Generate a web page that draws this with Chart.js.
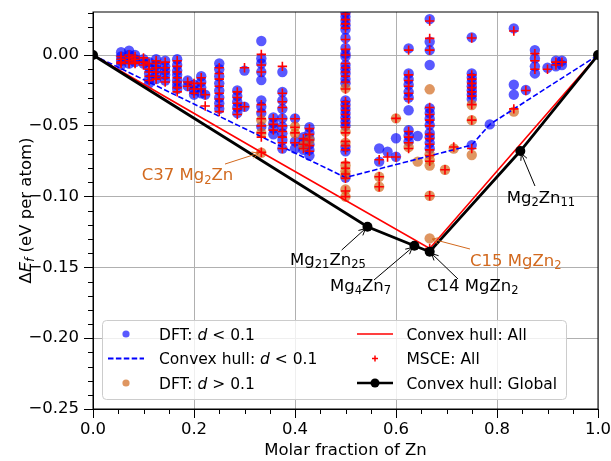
<!DOCTYPE html>
<html><head><meta charset="utf-8">
<script src="https://cdn.jsdelivr.net/npm/chart.js@4.4.1/dist/chart.umd.min.js"></script>
<style>html,body{margin:0;padding:0;background:#fff}</style>
</head><body>
<canvas id="c" width="611" height="461"></canvas>
<script>
// ---------- data (composition x, formation energies) ----------
const dftLowCols = [
 [0.0556,[0.002,-0.001,-0.004,-0.007]],
 [0.0714,[0.003,0.000,-0.003,-0.006]],
 [0.0833,[0.000,-0.003,-0.005]],
 [0.1,[-0.003,-0.006]],
 [0.1111,[-0.005,-0.009,-0.013,-0.017,-0.020]],
 [0.125,[-0.003,-0.007,-0.010,-0.014,-0.017]],
 [0.1429,[-0.004,-0.008,-0.011,-0.014,-0.018]],
 [0.1667,[-0.003,-0.007,-0.011,-0.014,-0.018,-0.021,-0.024]],
 [0.1875,[-0.018,-0.022]],
 [0.2,[-0.021,-0.025,-0.028]],
 [0.2143,[-0.015,-0.019,-0.023,-0.027]],
 [0.2222,[-0.028]],
 [0.25,[-0.006,-0.010,-0.015,-0.020,-0.025,-0.030,-0.034,-0.038]],
 [0.2857,[-0.025,-0.029,-0.033,-0.037,-0.041]],
 [0.3,[-0.011,-0.0365]],
 [0.3333,[0.0099,-0.0024,-0.006,-0.012,-0.0177,-0.032,-0.0365,-0.041,-0.0506]],
 [0.3571,[-0.044,-0.048,-0.052,-0.056]],
 [0.375,[-0.012,-0.026,-0.032,-0.038,-0.0447,-0.0506,-0.0553,-0.060,-0.066]],
 [0.4,[-0.0447,-0.061,-0.066]],
 [0.4167,[-0.058,-0.062,-0.067]],
 [0.4286,[-0.051,-0.055,-0.059,-0.063,-0.067,-0.071]],
 [0.5,[0.030,0.027,0.024,0.021,0.018,0.012,0.005,0.001,-0.001,-0.007,-0.010,-0.013,-0.017,-0.020,-0.032,-0.035,-0.038,-0.041,-0.044,-0.047,-0.050,-0.065,-0.068,-0.0865]],
 [0.5667,[-0.066,-0.0753]],
 [0.5833,[-0.0683]],
 [0.6,[-0.0588,-0.0718]],
 [0.625,[0.0047,-0.013,-0.017,-0.021,-0.026,-0.030,-0.039,-0.053,-0.057,-0.061]],
 [0.6429,[-0.0572]],
 [0.6667,[0.0254,0.0094,0.0035,-0.007,-0.0376,-0.041,-0.045,-0.0494,-0.055,-0.058,-0.062,-0.066]],
 [0.75,[0.0125,-0.013,-0.016,-0.019,-0.022,-0.025,-0.028,-0.031,-0.0636]],
 [0.7857,[-0.049]],
 [0.8333,[0.0188,-0.021,-0.028]],
 [0.8571,[-0.0247]],
 [0.875,[0.0035,-0.0024,-0.008,-0.013]],
 [0.9,[-0.009]],
 [0.9167,[-0.004,-0.008]],
 [0.9286,[-0.004,-0.007]]
];
const dftHighCols = [
 [0.3333,[-0.046,-0.055,-0.069]],
 [0.4,[-0.0506,-0.0553]],
 [0.4167,[-0.064]],
 [0.4286,[-0.060]],
 [0.5,[-0.0235,-0.054,-0.062,-0.078,-0.082,-0.085,-0.095,-0.100]],
 [0.5667,[-0.086,-0.093]],
 [0.6,[-0.0447]],
 [0.625,[-0.065]],
 [0.6429,[-0.0753]],
 [0.6667,[-0.0242,-0.070,-0.074,-0.078,-0.0994,-0.1295]],
 [0.697,[-0.081]],
 [0.7143,[-0.066]],
 [0.75,[-0.0353,-0.046,-0.0706]],
 [0.8333,[-0.040]]
];
const msceCols = [
 [0.0556,[-0.001,-0.003,-0.005,-0.006]],
 [0.0714,[0.000,-0.002,-0.004,-0.006]],
 [0.0833,[-0.001,-0.003,-0.005,-0.006]],
 [0.1,[-0.002,-0.005,-0.007]],
 [0.1111,[-0.006,-0.010,-0.012,-0.015,-0.018]],
 [0.125,[-0.004,-0.006,-0.009,-0.012,-0.015,-0.017]],
 [0.1429,[-0.005,-0.009,-0.012,-0.016,-0.019]],
 [0.1667,[-0.004,-0.008,-0.012,-0.016,-0.019,-0.023,-0.026]],
 [0.1875,[-0.019,-0.022]],
 [0.2,[-0.020,-0.024,-0.027]],
 [0.2143,[-0.016,-0.020,-0.024]],
 [0.2222,[-0.028,-0.036]],
 [0.25,[-0.009,-0.013,-0.017,-0.022,-0.027,-0.031,-0.036,-0.040]],
 [0.2857,[-0.026,-0.030,-0.034,-0.038,-0.042]],
 [0.3,[-0.009,-0.0365]],
 [0.3333,[0.0005,-0.007,-0.012,-0.035,-0.040,-0.045,-0.050,-0.055,-0.058,-0.0687]],
 [0.3571,[-0.045,-0.049,-0.053]],
 [0.375,[-0.008,-0.027,-0.033,-0.037,-0.045,-0.050,-0.054,-0.058,-0.062,-0.066]],
 [0.4,[-0.045,-0.051,-0.055,-0.062]],
 [0.4167,[-0.059,-0.063,-0.066]],
 [0.4286,[-0.052,-0.056,-0.060,-0.064,-0.068]],
 [0.5,[0.029,0.025,0.022,0.019,0.011,0.004,0.000,-0.006,-0.009,-0.012,-0.015,-0.019,-0.024,-0.033,-0.036,-0.039,-0.042,-0.045,-0.048,-0.051,-0.055,-0.061,-0.064,-0.067,-0.076,-0.080,-0.084,-0.087,-0.096,-0.100]],
 [0.5667,[-0.074,-0.086,-0.093]],
 [0.5833,[-0.072]],
 [0.6,[-0.0447,-0.072]],
 [0.625,[0.0035,-0.014,-0.018,-0.022,-0.027,-0.031,-0.054,-0.058,-0.062,-0.066]],
 [0.6667,[0.024,0.0118,0.0035,-0.037,-0.042,-0.046,-0.050,-0.056,-0.059,-0.063,-0.067,-0.071,-0.075,-0.0994,-0.1366]],
 [0.697,[-0.081]],
 [0.7143,[-0.065]],
 [0.75,[0.012,-0.014,-0.017,-0.020,-0.023,-0.026,-0.029,-0.035,-0.046,-0.066]],
 [0.8333,[0.017,-0.038]],
 [0.8571,[-0.025]],
 [0.875,[0.001,-0.004,-0.010]],
 [0.9,[-0.010]],
 [0.9167,[-0.005,-0.007]],
 [0.9286,[-0.005]]
];
const hullLowX = [0, 0.5, 0.75, 0.7857, 1];
const hullLowY = [0, -0.0865, -0.0636, -0.049, 0];
const hullAllX = [0, 0.3333, 0.6667, 1];
const hullAllY = [0, -0.0687, -0.1366, 0];
const hullGlobalX = [0, 0.5435, 0.6364, 0.6667, 0.8462, 1];
const hullGlobalY = [0, -0.1213, -0.1347, -0.1389, -0.0678, 0];
const xTickValues = [0, 0.2, 0.4, 0.6, 0.8, 1.0];
const yTickValues = [-0.25, -0.20, -0.15, -0.10, -0.05, 0.00];

// ---------- helpers ----------
const FONT = "'DejaVu Sans', sans-serif";
const ORANGE_TXT = '#d2691e';
const cols2pts = cols => cols.flatMap(([x, ys]) => ys.map(y => ({x, y})));
const xy2pts = (xs, ys) => xs.map((x, i) => ({x, y: ys[i]}));

function drawRich(ctx, parts, x, y, size, color) {
  let cx = x;
  ctx.fillStyle = color;
  ctx.textBaseline = 'alphabetic';
  ctx.textAlign = 'left';
  for (const [t, st] of parts) {
    let fs = size, dy = 0, sty = '';
    if (st.includes('s')) { fs = size * 0.7; dy = size * 0.2; }
    if (st.includes('i')) sty = 'italic ';
    ctx.font = `${sty}${fs}px ${FONT}`;
    ctx.fillText(t, cx, y + dy);
    cx += ctx.measureText(t).width;
  }
  return cx - x;
}
function measureRich(ctx, parts, size) {
  let w = 0;
  for (const [t, st] of parts) {
    let fs = st.includes('s') ? size * 0.7 : size;
    ctx.font = `${st.includes('i') ? 'italic ' : ''}${fs}px ${FONT}`;
    w += ctx.measureText(t).width;
  }
  return w;
}
function arrow(ctx, x1, y1, x2, y2, color) {
  const dx = x2 - x1, dy = y2 - y1, L = Math.hypot(dx, dy);
  const ux = dx / L, uy = dy / L;
  const ex = x2 - ux * 2.7, ey = y2 - uy * 2.7;
  ctx.strokeStyle = color; ctx.lineWidth = 1;
  ctx.beginPath(); ctx.moveTo(x1, y1); ctx.lineTo(ex, ey); ctx.stroke();
  const hl = 6.5, hw = 3.3;
  ctx.beginPath();
  ctx.moveTo(ex - ux * hl - uy * hw, ey - uy * hl + ux * hw);
  ctx.lineTo(ex, ey);
  ctx.lineTo(ex - ux * hl + uy * hw, ey - uy * hl - ux * hw);
  ctx.stroke();
}

// annotations: target point, arrow start and text anchor (data units)
const annotations = [
  {parts: [['C37 Mg',''],['2','s'],['Zn','']], color: ORANGE_TXT, target:[0.3333,-0.0687], from:[0.2614,-0.0770], text:[0.0964,-0.0886]},
  {parts: [['Mg',''],['21','s'],['Zn',''],['25','s']], color:'#000', target:[0.5435,-0.1213], from:[0.4925,-0.1377], text:[0.3901,-0.1483]},
  {parts: [['Mg',''],['4','s'],['Zn',''],['7','s']], color:'#000', target:[0.6364,-0.1347], from:[0.5564,-0.1589], text:[0.4693,-0.1667]},
  {parts: [['C14 MgZn',''],['2','s']], color:'#000', target:[0.6667,-0.1389], from:[0.7228,-0.1582], text:[0.6614,-0.1667]},
  {parts: [['C15 MgZn',''],['2','s']], color: ORANGE_TXT, target:[0.6667,-0.1295], from:[0.7465,-0.1370], text:[0.7465,-0.1490]},
  {parts: [['Mg',''],['2','s'],['Zn',''],['11','s']], color:'#000', target:[0.8462,-0.0678], from:[0.8752,-0.0925], text:[0.8192,-0.1043]}
];

const decor = {
  id: 'decor',
  afterDraw(chart) {
    const ctx = chart.ctx, ca = chart.chartArea;
    const xs = chart.scales.x, ys = chart.scales.y;
    ctx.save();
    // frame
    ctx.strokeStyle = '#000'; ctx.lineWidth = 1;
    ctx.strokeRect(ca.left, ca.top, ca.right - ca.left, ca.bottom - ca.top);
    // minor ticks
    ctx.beginPath();
    for (let i = 1; i < 20; i++) {
      if (i % 4 === 0) continue;
      const px = Math.round(xs.getPixelForValue(i * 0.05)) + 0.5;
      ctx.moveTo(px, ca.bottom); ctx.lineTo(px, ca.bottom + 5);
    }
    for (let i = -25; i <= 3; i++) {
      if (i % 5 === 0) continue;
      const py = Math.round(ys.getPixelForValue(i * 0.01)) + 0.5;
      ctx.moveTo(ca.left, py); ctx.lineTo(ca.left - 5, py);
    }
    ctx.stroke();
    // axis titles
    const xt = 'Molar fraction of Zn';
    ctx.font = `16.5px ${FONT}`; ctx.fillStyle = '#000';
    ctx.textAlign = 'center'; ctx.textBaseline = 'alphabetic';
    ctx.fillText(xt, (ca.left + ca.right) / 2, 455);
    const yParts = [['\u0394',''],['E','i'],['f','is'],[' (eV per atom)','']];
    ctx.save();
    ctx.translate(31, (ca.top + ca.bottom) / 2);
    ctx.rotate(-Math.PI / 2);
    const yw = measureRich(ctx, yParts, 16.5);
    drawRich(ctx, yParts, -yw / 2, 0, 16.5, '#000');
    ctx.restore();
    // annotations
    for (const a of annotations) {
      const tx = xs.getPixelForValue(a.target[0]), ty = ys.getPixelForValue(a.target[1]);
      const fx = xs.getPixelForValue(a.from[0]), fy = ys.getPixelForValue(a.from[1]);
      arrow(ctx, fx, fy, tx, ty, a.color);
      drawRich(ctx, a.parts, xs.getPixelForValue(a.text[0]), ys.getPixelForValue(a.text[1]), 16.5, a.color);
    }
    // legend
    const bx = 102.5, by = 320.5, bw = 464, bh = 79, r = 4;
    ctx.beginPath();
    ctx.moveTo(bx + r, by); ctx.lineTo(bx + bw - r, by); ctx.arcTo(bx + bw, by, bx + bw, by + r, r);
    ctx.lineTo(bx + bw, by + bh - r); ctx.arcTo(bx + bw, by + bh, bx + bw - r, by + bh, r);
    ctx.lineTo(bx + r, by + bh); ctx.arcTo(bx, by + bh, bx, by + bh - r, r);
    ctx.lineTo(bx, by + r); ctx.arcTo(bx, by, bx + r, by, r); ctx.closePath();
    ctx.fillStyle = 'rgba(255,255,255,0.8)'; ctx.fill();
    ctx.strokeStyle = '#cccccc'; ctx.lineWidth = 1; ctx.stroke();
    const rows = [334, 358.5, 383];
    const LS = 15.5, c1h = 126, c1t = 159, c2h = 375, c2t = 406.5;
    // col 1
    ctx.fillStyle = 'rgba(0,0,255,0.65)';
    ctx.beginPath(); ctx.arc(c1h, rows[0], 3.6, 0, Math.PI * 2); ctx.fill();
    ctx.strokeStyle = 'blue'; ctx.lineWidth = 2; ctx.setLineDash([5.5, 2.4]);
    ctx.beginPath(); ctx.moveTo(108, rows[1]); ctx.lineTo(144, rows[1]); ctx.stroke();
    ctx.setLineDash([]);
    ctx.fillStyle = 'rgba(210,105,30,0.7)';
    ctx.beginPath(); ctx.arc(c1h, rows[2], 3.6, 0, Math.PI * 2); ctx.fill();
    drawRich(ctx, [['DFT: ',''],['d','i'],[' < 0.1','']], c1t, rows[0] + 5.6, LS, '#000');
    drawRich(ctx, [['Convex hull: ',''],['d','i'],[' < 0.1','']], c1t, rows[1] + 5.6, LS, '#000');
    drawRich(ctx, [['DFT: ',''],['d','i'],[' > 0.1','']], c1t, rows[2] + 5.6, LS, '#000');
    // col 2
    ctx.strokeStyle = 'red'; ctx.lineWidth = 1.5;
    ctx.beginPath(); ctx.moveTo(357, rows[0]); ctx.lineTo(393, rows[0]); ctx.stroke();
    ctx.beginPath(); ctx.moveTo(c2h - 3, rows[1]); ctx.lineTo(c2h + 3, rows[1]);
    ctx.moveTo(c2h, rows[1] - 3); ctx.lineTo(c2h, rows[1] + 3); ctx.stroke();
    ctx.strokeStyle = '#000'; ctx.lineWidth = 2.5;
    ctx.beginPath(); ctx.moveTo(357, rows[2]); ctx.lineTo(393, rows[2]); ctx.stroke();
    ctx.fillStyle = '#000';
    ctx.beginPath(); ctx.arc(c2h, rows[2], 4.5, 0, Math.PI * 2); ctx.fill();
    drawRich(ctx, [['Convex hull: All','']], c2t, rows[0] + 5.6, LS, '#000');
    drawRich(ctx, [['MSCE: All','']], c2t, rows[1] + 5.6, LS, '#000');
    drawRich(ctx, [['Convex hull: Global','']], c2t, rows[2] + 5.6, LS, '#000');
    ctx.restore();
  }
};

const tickFont = {family: FONT, size: 16.5};
new Chart(document.getElementById('c'), {
  type: 'scatter',
  data: {datasets: [
    {label: 'Convex hull: Global', data: xy2pts(hullGlobalX, hullGlobalY), showLine: true,
     borderColor: '#000', borderWidth: 2.8, pointRadius: 5, pointBackgroundColor: '#000',
     pointBorderWidth: 0, clip: 0},
    {label: 'Convex hull: All', data: xy2pts(hullAllX, hullAllY), showLine: true,
     borderColor: 'red', borderWidth: 1.6, pointRadius: 0, clip: 0},
    {label: 'MSCE: All', data: cols2pts(msceCols), pointStyle: 'cross', pointRadius: 4.7,
     borderColor: 'red', pointBorderColor: 'red', pointBorderWidth: 1.6, clip: 0},
    {label: 'Convex hull: d < 0.1', data: xy2pts(hullLowX, hullLowY), showLine: true,
     borderColor: 'blue', borderDash: [5.5, 2.4], borderWidth: 1.6, pointRadius: 0, clip: 0},
    {label: 'DFT: d > 0.1', data: cols2pts(dftHighCols), pointRadius: 5.2,
     pointBackgroundColor: 'rgba(210,105,30,0.7)', pointBorderWidth: 0, clip: 0},
    {label: 'DFT: d < 0.1', data: cols2pts(dftLowCols), pointRadius: 5.2,
     pointBackgroundColor: 'rgba(0,0,255,0.65)', pointBorderWidth: 0, clip: 0}
  ]},
  options: {
    responsive: false, animation: false, devicePixelRatio: 1,
    layout: {padding: {left: 0, right: 13, top: 12, bottom: 0}, autoPadding: false},
    plugins: {legend: {display: false}, tooltip: {enabled: false}},
    events: [],
    scales: {
      x: {type: 'linear', min: 0, max: 1,
        afterBuildTicks(s) { s.ticks = xTickValues.map(v => ({value: v})); },
        afterFit(s) { s.height = 52; s.paddingLeft = 0; s.paddingRight = 0; s.paddingTop = 0; s.paddingBottom = 0; },
        ticks: {callback: v => v.toFixed(1), font: tickFont, color: '#000', padding: 2, maxRotation: 0, autoSkip: false},
        grid: {color: '#b0b0b0', lineWidth: 1, tickLength: 9, tickColor: '#000', tickWidth: 1},
        border: {color: '#000', width: 1}},
      y: {type: 'linear', min: -0.25, max: 0.0304,
        afterBuildTicks(s) { s.ticks = yTickValues.map(v => ({value: v})); },
        afterFit(s) { s.width = 93; s.paddingTop = 0; s.paddingBottom = 0; s.paddingLeft = 0; s.paddingRight = 0; },
        ticks: {callback: v => (v < -1e-9 ? '\u2212' : '') + Math.abs(v).toFixed(2), font: tickFont, color: '#000', padding: 5, autoSkip: false},
        grid: {color: '#b0b0b0', lineWidth: 1, tickLength: 9, tickColor: '#000', tickWidth: 1},
        border: {color: '#000', width: 1}}
    }
  },
  plugins: [decor]
});
</script>
</body></html>
